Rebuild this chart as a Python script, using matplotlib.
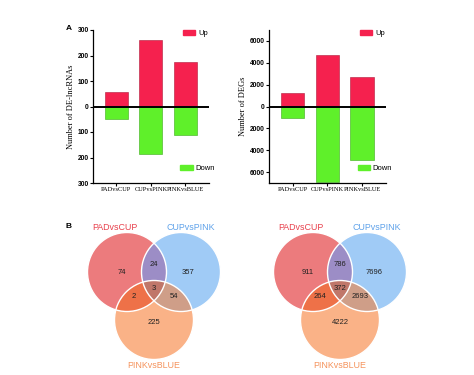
import numpy as np
import matplotlib
matplotlib.use('Agg')
import matplotlib.pyplot as plt
from matplotlib.patches import Circle, Polygon, Patch

# ---- data ----
comparisons = ['PADvsCUP', 'CUPvsPINK', 'PINKvsBLUE']
lnc_up = [56, 260, 175]
lnc_down = [50, 185, 112]
deg_up = [1250, 4700, 2670]
deg_down = [1050, 6900, 4900]

# venn region counts: A, B, C, AB, AC, BC, ABC
venn_lnc = [74, 357, 225, 24, 2, 54, 3]
venn_deg = [911, 7696, 4222, 786, 264, 2693, 372]

UP_COLOR = '#f5214e'
DOWN_COLOR = '#5ff02a'
REGION_COLORS = ['#ec7b7d', '#a0cbf6', '#fab287', '#9c8dc6', '#ee7148', '#cf9e88', '#c0776a']
LABEL_COLORS = ['#e8404c', '#5fa2ea', '#f5935c']

plt.rcParams['font.family'] = ['Liberation Sans', 'DejaVu Sans']

fig = plt.figure(figsize=(4.74, 3.75), dpi=100)


def bar_panel(rect, up, down, lim, tmax, step, ylabel):
    ax = fig.add_axes(rect)
    x = np.arange(len(comparisons))
    ax.bar(x, up, width=0.67, color=UP_COLOR, edgecolor='#b01a3a', linewidth=0.4)
    ax.bar(x, [-d for d in down], width=0.67, color=DOWN_COLOR, edgecolor='#3caa18', linewidth=0.4)
    ax.axhline(0, color='black', lw=1.4)
    ax.set_xlim(-0.68, 2.69)
    ax.set_ylim(-lim, lim)
    ticks = np.arange(-tmax, tmax + 1, step)
    ax.set_yticks(ticks)
    ax.set_yticklabels([str(abs(int(t))) for t in ticks], fontsize=4.8, fontweight='bold')
    ax.set_xticks(x)
    ax.set_xticklabels(comparisons, fontsize=4.6, family='Liberation Serif')
    ax.set_ylabel(ylabel, fontsize=6, family='Liberation Serif', labelpad=2)
    ax.tick_params(length=2, width=0.8, pad=1)
    for s in ['top', 'right']:
        ax.spines[s].set_visible(False)
    for s in ['left', 'bottom']:
        ax.spines[s].set_linewidth(0.9)
    leg1 = ax.legend([Patch(color=UP_COLOR)], ['Up'], loc='upper right', frameon=False,
                     fontsize=5.5, handlelength=1.6, handleheight=0.7, borderaxespad=0.0,
                     handletextpad=0.4, bbox_to_anchor=(1.02, 1.02))
    ax.add_artist(leg1)
    ax.legend([Patch(color=DOWN_COLOR)], ['Down'], loc='lower right', frameon=False,
              fontsize=5.5, handlelength=1.6, handleheight=0.7, borderaxespad=0.0,
              handletextpad=0.4, bbox_to_anchor=(1.08, 0.05))
    return ax


bar_panel([93 / 474, 1 - 183 / 375, 116 / 474, 153 / 375], lnc_up, lnc_down, 300, 300, 100,
          'Number of DE-lncRNAs')
bar_panel([269 / 474, 1 - 183 / 375, 117 / 474, 153 / 375], deg_up, deg_down, 7000, 6000, 2000,
          'Number of DEGs')

# ---- venn panels, drawn in pixel space ----
vax = fig.add_axes([0, 0, 1, 1], zorder=-1)
vax.set_xlim(0, 474)
vax.set_ylim(375, 0)
vax.axis('off')


def inter_poly(circles, n=1440):
    pts = []
    t = np.linspace(0, 2 * np.pi, n, endpoint=False)
    for i, (cx, cy, r) in enumerate(circles):
        p = np.column_stack([cx + r * np.cos(t), cy + r * np.sin(t)])
        mask = np.ones(len(p), bool)
        for j, (ox, oy, orr) in enumerate(circles):
            if j != i:
                mask &= np.hypot(p[:, 0] - ox, p[:, 1] - oy) <= orr + 1e-9
        pts.append(p[mask])
    pts = np.vstack(pts)
    c = pts.mean(axis=0)
    ang = np.arctan2(pts[:, 1] - c[1], pts[:, 0] - c[0])
    return pts[np.argsort(ang)]


def venn(cx, counts):
    r = 39.5
    A = (cx - 27, 272, r)
    B = (cx + 27, 272, r)
    C = (cx, 320, r)
    for circ, col in zip([A, B, C], REGION_COLORS[:3]):
        vax.add_patch(Circle(circ[:2], circ[2], color=col, lw=0))
    for pair, col in zip([(A, B), (A, C), (B, C)], REGION_COLORS[3:6]):
        vax.add_patch(Polygon(inter_poly(pair), closed=True, color=col, lw=0))
    vax.add_patch(Polygon(inter_poly([A, B, C]), closed=True, color=REGION_COLORS[6], lw=0))
    for circ in [A, B, C]:
        vax.add_patch(Circle(circ[:2], circ[2], fill=False, ec='white', lw=1.0))
    offs = [(-32, 272), (34, 272), (0, 322), (0, 265), (-20, 297), (20, 297), (0, 288)]
    for (dx, y), v in zip(offs, counts):
        vax.text(cx + dx, y, str(v), ha='center', va='center', fontsize=5.5, color='#222222')
    vax.text(cx - 39, 227, comparisons[0], ha='center', va='center', fontsize=6.4, color=LABEL_COLORS[0])
    vax.text(cx + 37, 227, comparisons[1], ha='center', va='center', fontsize=6.4, color=LABEL_COLORS[1])
    vax.text(cx, 366, comparisons[2], ha='center', va='center', fontsize=6.4, color=LABEL_COLORS[2])


venn(154, venn_lnc)
venn(340, venn_deg)

fig.text(69 / 474, 1 - 29 / 375, 'A', fontsize=6, fontweight='bold', ha='center', va='center')
fig.text(69 / 474, 1 - 227 / 375, 'B', fontsize=6, fontweight='bold', ha='center', va='center')

fig.savefig('out.png', dpi=100)
